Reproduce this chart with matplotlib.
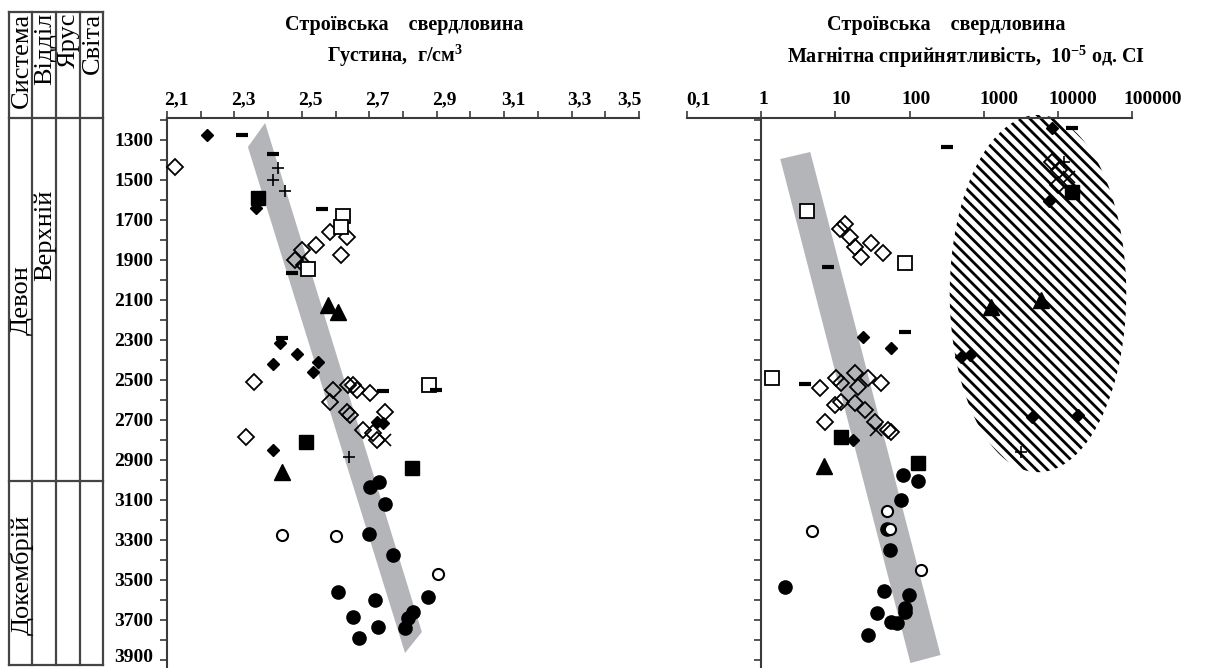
import numpy as np
import matplotlib
matplotlib.use('Agg')
import matplotlib.pyplot as plt
from matplotlib.transforms import ScaledTranslation
from matplotlib.patches import Polygon
from matplotlib.ticker import FixedLocator, MultipleLocator, NullLocator, NullFormatter

plt.rcParams['font.family'] = ['Liberation Serif', 'DejaVu Serif']
plt.rcParams['font.weight'] = 'bold'
plt.rcParams['mathtext.fontset'] = 'custom'
plt.rcParams['mathtext.rm'] = 'Liberation Serif:bold'
plt.rcParams['mathtext.it'] = 'Liberation Serif:italic:bold'
plt.rcParams['mathtext.bf'] = 'Liberation Serif:bold'
plt.rcParams['hatch.linewidth'] = 2.0

# ---------------- data: density panel (g/cm^3 vs depth, m) ----------------
dens_filled_diamond = [2.219, 2.364, 2.435, 2.486, 2.414, 2.548, 2.533, 2.723, 2.741, 2.414]
depth_filled_diamond = [1275, 1640, 2315, 2370, 2420, 2410, 2460, 2710, 2715, 2850]

dens_open_diamond = [2.124, 2.583, 2.634, 2.542, 2.500, 2.616, 2.480, 2.506, 2.358, 2.592, 2.637,
                     2.652, 2.664, 2.702, 2.583, 2.634, 2.643, 2.747, 2.681, 2.711, 2.723, 2.334]
depth_open_diamond = [1435, 1760, 1785, 1825, 1850, 1875, 1900, 1925, 2510, 2550, 2525,
                      2525, 2550, 2565, 2610, 2660, 2675, 2660, 2750, 2765, 2800, 2785]

dens_open_square = [2.622, 2.616, 2.518, 2.877]
depth_open_square = [1680, 1735, 1945, 2525]

dens_filled_square = [2.370, 2.512, 2.827]
depth_filled_square = [1590, 2810, 2940]

dens_dash = [2.322, 2.414, 2.560, 2.471, 2.441, 2.741, 2.898]
depth_dash = [1275, 1370, 1645, 1965, 2290, 2555, 2550]

dens_plus = [2.429, 2.414, 2.450, 2.640]
depth_plus = [1440, 1500, 1555, 2885]

dens_cross = [2.747]
depth_cross = [2800]

dens_triangle = [2.578, 2.607, 2.441]
depth_triangle = [2125, 2160, 2960]

dens_filled_circle = [2.702, 2.729, 2.747, 2.699, 2.770, 2.607, 2.874, 2.717, 2.652, 2.726,
                      2.830, 2.815, 2.806, 2.670]
depth_filled_circle = [3035, 3010, 3120, 3270, 3375, 3560, 3585, 3600, 3685, 3735,
                       3660, 3690, 3740, 3790]

dens_open_circle = [2.441, 2.601, 2.904]
depth_open_circle = [3275, 3280, 3470]

# trend band (density)
band_dens = [2.340, 2.391, 2.856, 2.806]
band_dens_depth = [1335, 1215, 3760, 3865]

# ---------------- data: magnetic susceptibility panel (1e-5 SI) ----------------
sus_open_square = [4.2, 88, 1.4]
depth_sus_open_square = [1655, 1915, 2490]

sus_open_diamond = [13.6, 11.7, 16.0, 18.6, 22.5, 30.6, 44.5, 6.3, 10.3, 12.1, 18.6, 20.5, 27.9,
                    41.8, 10.0, 12.1, 18.6, 25.4, 7.3, 34.7, 52, 57, 8300, 10300, 10000]
depth_sus_open_diamond = [1720, 1745, 1785, 1835, 1885, 1815, 1865, 2540, 2490, 2515, 2465, 2535,
                          2490, 2515, 2625, 2610, 2615, 2650, 2710, 2710, 2750, 2760, 1410, 1450, 1525]

sus_filled_diamond = [23.9, 57, 17.5, 8300, 7550, 489, 647, 4450, 18600]
depth_sus_filled_diamond = [2285, 2340, 2800, 1240, 1605, 2385, 2375, 2685, 2675]

sus_filled_square = [12.1, 132, 15500]
depth_sus_filled_square = [2785, 2915, 1560]

sus_triangle = [7.1, 1240, 5900]
depth_sus_triangle = [2930, 2135, 2100]

sus_dash = [3.9, 8.0, 86, 15500, 316]
depth_sus_dash = [2520, 1935, 2260, 1240, 1335]

sus_plus = [12000, 3160]
depth_sus_plus = [1410, 2860]

sus_cross = [35.8, 14100]
depth_sus_cross = [2750, 1485]

sus_filled_circle = [83, 132, 78, 49, 54, 2.1, 46, 97, 86, 87, 37, 57, 67, 28]
depth_sus_filled_circle = [2975, 3005, 3100, 3245, 3350, 3535, 3555, 3575, 3640, 3660,
                           3665, 3710, 3715, 3775]

sus_open_circle = [50, 4.9, 55, 141]
depth_sus_open_circle = [3155, 3255, 3245, 3450]

# trend band (susceptibility)
band_sus = [1.81, 4.59, 262, 103]
band_sus_depth = [1395, 1360, 3875, 3915]

# hatched ellipse region (centre / half extents)
ellipse_sus_center = 5400
ellipse_half_decades = 1.19
ellipse_depth_center = 2068
ellipse_half_depth = 893

# axis ticks / labels
dens_ticks = [2.1, 2.3, 2.5, 2.7, 2.9, 3.1, 3.3, 3.5]
dens_ticklabels = ['2,1', '2,3', '2,5', '2,7', '2,9', '3,1', '3,3', '3,5']
sus_ticks = [0.1, 1, 10, 100, 1000, 10000, 100000]
sus_ticklabels = ['0,1', '1', '10', '100', '1000', '10000', '100000']
depth_ticks = list(range(1300, 4000, 200))

# ---------------- styles ----------------
styles = {
    'filled_diamond': dict(marker='D', ms=5.8, mfc='black', mec='black', mew=1.0),
    'open_diamond': dict(marker='D', ms=8.5, mfc='none', mec='black', mew=1.3),
    'open_square': dict(marker='s', ms=10, mfc='white', mec='black', mew=1.3),
    'filled_square': dict(marker='s', ms=10, mfc='black', mec='black', mew=1.0),
    'dash': dict(marker='_', ms=8, mec='black', mew=3.0),
    'plus': dict(marker='+', ms=8, mec='black', mew=1.2),
    'cross': dict(marker='x', ms=9, mec='black', mew=1.2),
    'triangle': dict(marker='^', ms=11, mfc='black', mec='black', mew=1.0),
    'filled_circle': dict(marker='o', ms=9.5, mfc='black', mec='black', mew=1.0),
    'open_circle': dict(marker='o', ms=8, mfc='white', mec='black', mew=1.5),
}

W, H = 1218, 668
fig = plt.figure(figsize=(W / 100, H / 100), dpi=100)

ax_top = 118
ax_h = (H - ax_top) / H
axL = fig.add_axes([167 / W, 0, 472 / W, ax_h])
axR = fig.add_axes([687 / W, 0, 445 / W, ax_h])

depth_top = 1190
depth_bottom = depth_top + (H - ax_top) * 5

axis_color = '#3a3a3a'
for ax in (axL, axR):
    ax.set_ylim(depth_bottom, depth_top)
    for s in ('bottom', 'right'):
        ax.spines[s].set_visible(False)
    for s in ('top', 'left'):
        ax.spines[s].set_linewidth(1.5)
        ax.spines[s].set_color(axis_color)
    ax.xaxis.set_ticks_position('top')
    ax.yaxis.set_ticks_position('left')
    ax.yaxis.set_major_locator(FixedLocator(depth_ticks))
    ax.yaxis.set_minor_locator(MultipleLocator(100))
    ax.tick_params(axis='both', which='both', direction='out', length=5, width=1.2,
                   color=axis_color, labelsize=14)
    ax.tick_params(axis='x', pad=2)
    ax.tick_params(axis='y', pad=5)
    ax.patch.set_visible(False)

# left panel axes
axL.set_xlim(2.1, 3.5)
axL.xaxis.set_major_locator(FixedLocator(dens_ticks))
axL.set_xticklabels(dens_ticklabels)
axL.xaxis.set_minor_locator(MultipleLocator(0.1))

# right panel axes
axR.set_xscale('log')
axR.set_xlim(0.1, 100000)
axR.xaxis.set_major_locator(FixedLocator(sus_ticks))
axR.set_xticklabels(sus_ticklabels)
axR.xaxis.set_minor_locator(NullLocator())
axR.spines['left'].set_position(('data', 1))
axR.yaxis.set_major_formatter(NullFormatter())

# bands
axL.add_patch(Polygon(np.column_stack([band_dens, band_dens_depth]), closed=True,
                      facecolor='#b3b5b8', edgecolor='none', zorder=1))
axR.add_patch(Polygon(np.column_stack([band_sus, band_sus_depth]), closed=True,
                      facecolor='#b3b5b8', edgecolor='none', zorder=1))

# hatched ellipse (built in log-susceptibility space)
t = np.linspace(0, 2 * np.pi, 200)
ell_x = 10 ** (np.log10(ellipse_sus_center) + ellipse_half_decades * np.cos(t))
ell_y = ellipse_depth_center + ellipse_half_depth * np.sin(t)
axR.add_patch(Polygon(np.column_stack([ell_x, ell_y]), closed=True, facecolor='white',
                      edgecolor='black', linewidth=0, hatch='\\\\\\', zorder=1.5, clip_on=False))


def pts(ax, xs, ys, key):
    ax.plot(xs, ys, linestyle='none', zorder=3, clip_on=False, **styles[key])


pts(axL, dens_open_diamond, depth_open_diamond, 'open_diamond')
pts(axL, dens_open_square, depth_open_square, 'open_square')
pts(axL, dens_filled_diamond, depth_filled_diamond, 'filled_diamond')
pts(axL, dens_filled_square, depth_filled_square, 'filled_square')
pts(axL, dens_dash, depth_dash, 'dash')
pts(axL, dens_plus, depth_plus, 'plus')
pts(axL, dens_cross, depth_cross, 'cross')
pts(axL, dens_triangle, depth_triangle, 'triangle')
pts(axL, dens_filled_circle, depth_filled_circle, 'filled_circle')
pts(axL, dens_open_circle, depth_open_circle, 'open_circle')

pts(axR, sus_open_diamond, depth_sus_open_diamond, 'open_diamond')
pts(axR, sus_open_square, depth_sus_open_square, 'open_square')
pts(axR, sus_filled_diamond, depth_sus_filled_diamond, 'filled_diamond')
pts(axR, sus_filled_square, depth_sus_filled_square, 'filled_square')
pts(axR, sus_dash, depth_sus_dash, 'dash')
pts(axR, sus_plus, depth_sus_plus, 'plus')
pts(axR, sus_cross, depth_sus_cross, 'cross')
pts(axR, sus_triangle, depth_sus_triangle, 'triangle')
pts(axR, sus_filled_circle, depth_sus_filled_circle, 'filled_circle')
pts(axR, sus_open_circle, depth_sus_open_circle, 'open_circle')

# tick label nudges (pixels) as in the original layout
left_offsets = [9, 9, 9, 8, 8, 9, 8, -10]
right_offsets = [11, 2, 6, 7, 15, 15, 21]
for lbl, off in zip(axL.get_xticklabels(), left_offsets):
    lbl.set_transform(lbl.get_transform() + ScaledTranslation(off / 100, 0, fig.dpi_scale_trans))
for lbl, off in zip(axR.get_xticklabels(), right_offsets):
    lbl.set_transform(lbl.get_transform() + ScaledTranslation(off / 100, 0, fig.dpi_scale_trans))
# keep the lowest depth label inside the figure
ylbls = axL.get_yticklabels()
ylbls[-1].set_transform(ylbls[-1].get_transform() + ScaledTranslation(0, 4 / 100, fig.dpi_scale_trans))

# ---------------- overlay: titles and stratigraphic table ----------------
ov = fig.add_axes([0, 0, 1, 1], zorder=-1)
ov.set_xlim(0, W)
ov.set_ylim(H, 0)
ov.axis('off')

ov.text(404, 25, 'Строївська    свердловина', ha='center', va='center', fontsize=14.5)
ov.text(395, 56, 'Густина,  г/см$^{3}$', ha='center', va='center', fontsize=14.5)
ov.text(946, 25, 'Строївська    свердловина', ha='center', va='center', fontsize=14.5)
ov.text(966, 57, 'Магнітна сприйнятливість,  10$^{-5}$ од. СІ', ha='center', va='center',
        fontsize=14.5)

tbl_color = '#444444'
cols = [9, 32, 56, 80, 103]
rows = [12, 118, 481, 665]
for cx in cols:
    ov.plot([cx, cx], [rows[0], rows[-1]], color=tbl_color, lw=1.6)
for ry in rows:
    ov.plot([cols[0], cols[-1]], [ry, ry], color=tbl_color, lw=1.6)

hdr = ['Система', 'Відділ', 'Ярус', 'Світа']
for i, name in enumerate(hdr):
    ov.text((cols[i] + cols[i + 1]) / 2 + 1, 13, name, rotation=90, ha='center', va='top',
            fontsize=19, fontweight='normal')
ov.text((cols[0] + cols[1]) / 2 + 1, 300, 'Девон', rotation=90, ha='center', va='center',
        fontsize=19, fontweight='normal')
ov.text((cols[1] + cols[2]) / 2 + 1, 235, 'Верхній', rotation=90, ha='center', va='center',
        fontsize=19, fontweight='normal')
ov.text((cols[0] + cols[1]) / 2 + 1, 575, 'Докембрій', rotation=90, ha='center', va='center',
        fontsize=19, fontweight='normal')

fig.savefig('out.png', dpi=100)
